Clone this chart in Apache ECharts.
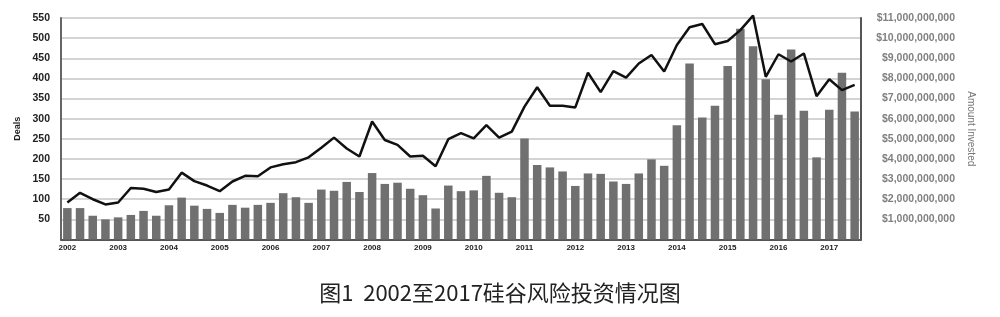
<!DOCTYPE html>
<html>
<head>
<meta charset="utf-8">
<script src="https://cdn.jsdelivr.net/npm/echarts@6/dist/echarts.min.js"></script>
<style>
html,body{margin:0;padding:0;background:#fff;}
#chart{width:1000px;height:317px;}
</style>
</head>
<body>
<div id="chart"></div>
<script>
// Years and quarters (2002 Q1 .. 2017 Q3)
var years = [2002,2003,2004,2005,2006,2007,2008,2009,2010,2011,2012,2013,2014,2015,2016,2017];
var quarters = ['Q1','Q2','Q3','Q4'];
var categories = [];
years.forEach(function(y){ quarters.forEach(function(q){ categories.push(y + ' ' + q); }); });
categories = categories.slice(0, 63);

// Amount invested per quarter, in billions of dollars (bars, right axis)
var amountInvested = [
  1.56,1.56,1.18,1.00, 1.10,1.22,1.42,1.18, 1.70,2.08,1.68,1.52, 1.32,1.72,1.58,1.72,
  1.82,2.30,2.10,1.82, 2.48,2.42,2.86,2.36, 3.30,2.76,2.82,2.52, 2.20,1.54,2.68,2.40,
  2.44,3.16,2.32,2.10, 5.02,3.70,3.58,3.38, 2.66,3.28,3.26,2.88, 2.76,3.28,3.98,3.66,
  5.68,8.74,6.06,6.64, 8.62,10.46,9.60,7.96, 6.20,9.44,6.40,4.08, 6.44,8.28,6.36
];

// Number of deals per quarter (line, left axis)
var deals = [
  92,116,100,87, 92,128,126,118, 124,166,145,134, 120,144,158,157,
  179,187,192,204, 228,253,226,206, 293,247,235,206, 208,182,249,264,
  251,284,253,268, 330,378,332,332, 328,414,366,418, 402,437,458,417,
  483,527,535,485, 493,520,556,404, 460,442,462,356, 398,371,384
];

var captionText = '图1  2002至2017硅谷风险投资情况图';

var chart = echarts.init(document.getElementById('chart'), null, {renderer:'canvas'});
var tickFont = 'Liberation Sans, Arial, Helvetica, sans-serif';
chart.setOption({
  animation: false,
  backgroundColor: '#ffffff',
  title: {
    text: captionText,
    left: 'center',
    top: 277,
    textStyle: {
      fontFamily: 'Noto Sans CJK SC, sans-serif',
      fontSize: 22,
      fontWeight: 'normal',
      color: '#222'
    }
  },
  grid: { left: 61, right: 139, top: 18, bottom: 77.5 },
  xAxis: {
    type: 'category',
    data: categories,
    boundaryGap: true,
    axisLine: { show: true, lineStyle: { color: '#555', width: 2 } },
    axisTick: { show: false },
    axisLabel: {
      interval: 3,
      margin: 4,
      fontSize: 8,
      fontWeight: 'bold',
      fontFamily: tickFont,
      color: '#222',
      formatter: function(v){ return v.split(' ')[0]; }
    }
  },
  yAxis: [
    {
      type: 'value',
      min: 0, max: 550, interval: 50,
      position: 'left',
      name: 'Deals',
      nameLocation: 'middle',
      nameRotate: 90,
      nameGap: 39,
      nameTextStyle: { fontSize: 9, fontWeight: 'bold', fontFamily: tickFont, color: '#222' },
      axisLine: { show: true, lineStyle: { color: '#666', width: 2 } },
      axisTick: { show: false },
      axisLabel: {
        showMinLabel: false,
        margin: 11,
        fontSize: 10.5,
        fontWeight: 'bold',
        fontFamily: tickFont,
        color: '#222'
      },
      splitLine: { show: true, lineStyle: { color: '#c6c6c6', width: 1.5 } }
    },
    {
      type: 'value',
      min: 0, max: 11, interval: 1,
      position: 'right',
      name: 'Amount Invested',
      nameLocation: 'middle',
      nameRotate: -90,
      nameGap: 100,
      nameTextStyle: { fontSize: 10, fontFamily: tickFont, color: '#777' },
      axisLine: { show: true, lineStyle: { color: '#555', width: 2 } },
      axisTick: { show: false },
      axisLabel: {
        showMinLabel: false,
        margin: 94,
        fontSize: 10.5,
        fontWeight: 'bold',
        fontFamily: tickFont,
        color: '#808080',
        align: 'right',
        formatter: function(v){ return '$' + v + ',000,000,000'; }
      },
      splitLine: { show: false }
    }
  ],
  series: [
    {
      name: 'Amount Invested',
      type: 'bar',
      yAxisIndex: 1,
      data: amountInvested,
      barCategoryGap: '33%',
      itemStyle: { color: '#707070' }
    },
    {
      name: 'Deals',
      type: 'line',
      yAxisIndex: 0,
      data: deals,
      clip: false,
      symbol: 'none',
      lineStyle: { color: '#111', width: 2.5 },
      z: 5
    }
  ]
});
</script>
</body>
</html>
